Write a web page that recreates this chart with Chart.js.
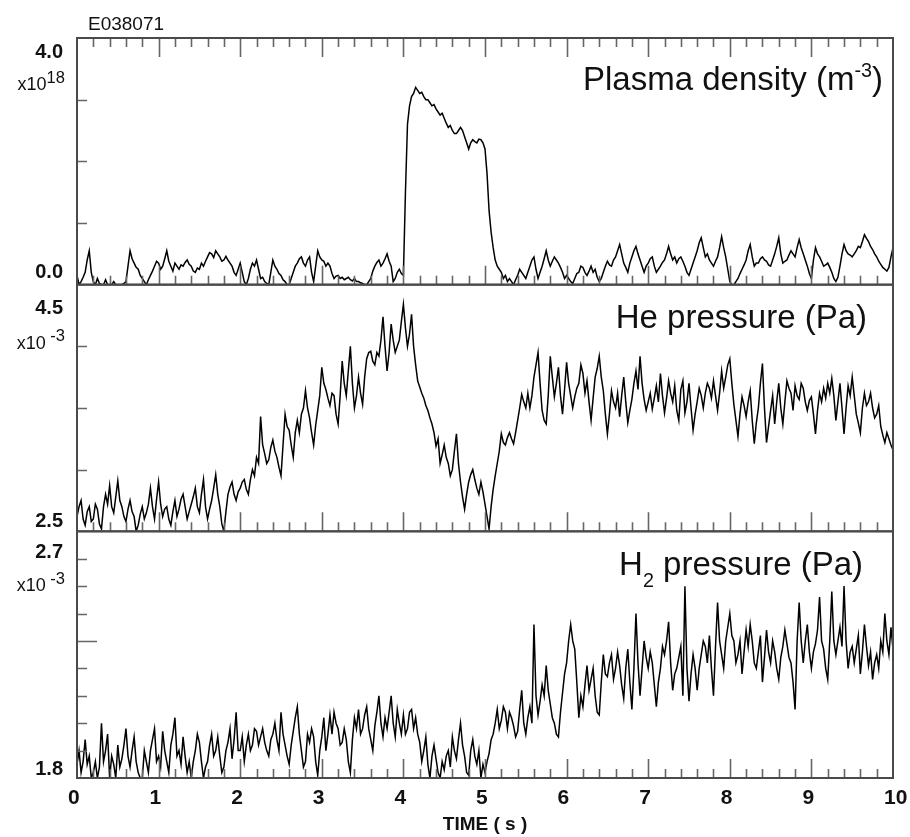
<!DOCTYPE html>
<html>
<head>
<meta charset="utf-8">
<script src="https://cdn.jsdelivr.net/npm/chart.js@4.4.0/dist/chart.umd.min.js"></script>
<style>
  body { margin: 0; background: #fff; }
  #wrap { width: 910px; height: 837px; }
</style>
</head>
<body>
<div id="wrap"><canvas id="chart" width="910" height="837"></canvas></div>
<script>
// shot number shown above the plot
const shotLabel = 'E038071';

// traces every 0.025 s, from 0 to 10 s
const dt = 0.025;

// plasma density, x10^18 m^-3 (one line per half second)
const density = [
    0.15, 0.0, 0.05, 0.12, 0.2, 0.4, 0.55, 0.2, 0.05, 0.0, 0.1, 0.02, 0.0, 0.0, 0.08, 0.0, 0.0, 0.0, 0.05, 0.0,
    0.0, 0.0, 0.0, 0.02, 0.05, 0.3, 0.55, 0.42, 0.35, 0.28, 0.25, 0.15, 0.1, 0.05, 0.0, 0.08, 0.15, 0.22, 0.3, 0.38,
    0.35, 0.25, 0.3, 0.42, 0.55, 0.38, 0.3, 0.22, 0.35, 0.3, 0.25, 0.32, 0.3, 0.36, 0.4, 0.33, 0.3, 0.22, 0.2, 0.27,
    0.25, 0.35, 0.3, 0.38, 0.45, 0.52, 0.5, 0.44, 0.55, 0.5, 0.45, 0.38, 0.4, 0.46, 0.4, 0.35, 0.3, 0.2, 0.15, 0.25,
    0.35, 0.2, 0.05, 0.0, 0.1, 0.25, 0.35, 0.3, 0.4, 0.25, 0.1, 0.12, 0.05, 0.02, 0.0, 0.2, 0.4, 0.3, 0.25, 0.18,
    0.15, 0.08, 0.05, 0.0, 0.0, 0.1, 0.2, 0.3, 0.35, 0.42, 0.45, 0.35, 0.3, 0.4, 0.45, 0.2, 0.05, 0.3, 0.55, 0.45,
    0.4, 0.38, 0.3, 0.35, 0.3, 0.18, 0.1, 0.14, 0.15, 0.1, 0.12, 0.08, 0.1, 0.12, 0.08, 0.06, 0.1, 0.05, 0.05, 0.03,
    0.02, 0.0, 0.0, 0.05, 0.1, 0.22, 0.3, 0.36, 0.4, 0.3, 0.35, 0.42, 0.5, 0.38, 0.3, 0.05, 0.1, 0.2, 0.25, 0.18,
    0.15, 1.5, 2.6, 2.9, 3.05, 3.1, 3.2, 3.15, 3.1, 3.12, 3.05, 3.0, 3.0, 2.95, 2.9, 2.92, 2.85, 2.8, 2.75, 2.78,
    2.7, 2.62, 2.55, 2.58, 2.5, 2.45, 2.45, 2.5, 2.55, 2.5, 2.4, 2.3, 2.2, 2.3, 2.35, 2.32, 2.3, 2.36, 2.35, 2.3,
    2.2, 1.8, 1.2, 0.85, 0.6, 0.4, 0.3, 0.25, 0.2, 0.1, 0.15, 0.05, 0.1, 0.05, 0.0, 0.08, 0.15, 0.25, 0.2, 0.15,
    0.1, 0.2, 0.3, 0.4, 0.45, 0.25, 0.1, 0.2, 0.3, 0.42, 0.55, 0.4, 0.3, 0.38, 0.45, 0.4, 0.35, 0.28, 0.2, 0.1,
    0.15, 0.1, 0.05, 0.02, 0.1, 0.18, 0.2, 0.3, 0.28, 0.2, 0.15, 0.22, 0.3, 0.2, 0.25, 0.12, 0.05, 0.1, 0.2, 0.3,
    0.38, 0.32, 0.3, 0.4, 0.45, 0.55, 0.65, 0.5, 0.35, 0.28, 0.2, 0.35, 0.45, 0.55, 0.62, 0.5, 0.4, 0.3, 0.2, 0.3,
    0.35, 0.42, 0.45, 0.3, 0.2, 0.25, 0.3, 0.36, 0.4, 0.5, 0.62, 0.5, 0.4, 0.45, 0.35, 0.42, 0.45, 0.38, 0.3, 0.2,
    0.15, 0.25, 0.35, 0.45, 0.55, 0.68, 0.76, 0.6, 0.45, 0.5, 0.4, 0.35, 0.3, 0.38, 0.45, 0.6, 0.78, 0.6, 0.45, 0.25,
    0.05, 0.0, 0.0, 0.05, 0.1, 0.18, 0.25, 0.32, 0.4, 0.55, 0.65, 0.45, 0.3, 0.35, 0.35, 0.42, 0.45, 0.4, 0.38, 0.32,
    0.3, 0.4, 0.5, 0.62, 0.76, 0.5, 0.35, 0.38, 0.4, 0.48, 0.55, 0.5, 0.45, 0.6, 0.73, 0.6, 0.5, 0.4, 0.3, 0.18,
    0.1, 0.4, 0.6, 0.5, 0.45, 0.38, 0.3, 0.32, 0.35, 0.28, 0.2, 0.1, 0.05, 0.12, 0.3, 0.5, 0.65, 0.55, 0.5, 0.48,
    0.45, 0.5, 0.55, 0.62, 0.6, 0.7, 0.81, 0.75, 0.7, 0.62, 0.57, 0.5, 0.45, 0.38, 0.33, 0.28, 0.25, 0.22, 0.28, 0.45,
    0.6
];

// He pressure, x10^-3 Pa
const hePressure = [
    2.62, 2.7, 2.75, 2.6, 2.55, 2.66, 2.7, 2.58, 2.6, 2.72, 2.68, 2.56, 2.52, 2.7, 2.8, 2.72, 2.87, 2.7, 2.65, 2.78,
    2.91, 2.75, 2.7, 2.62, 2.58, 2.68, 2.75, 2.66, 2.62, 2.5, 2.55, 2.64, 2.7, 2.6, 2.65, 2.72, 2.85, 2.7, 2.6, 2.76,
    2.9, 2.72, 2.62, 2.68, 2.7, 2.6, 2.55, 2.66, 2.75, 2.62, 2.68, 2.76, 2.8, 2.7, 2.6, 2.66, 2.72, 2.78, 2.85, 2.7,
    2.65, 2.8, 2.92, 2.7, 2.6, 2.68, 2.75, 2.85, 2.96, 2.8, 2.7, 2.56, 2.5, 2.66, 2.8, 2.86, 2.9, 2.8, 2.75, 2.82,
    2.85, 2.9, 2.92, 2.84, 2.8, 2.92, 3.0, 2.95, 3.1, 3.05, 3.43, 3.2, 3.13, 3.05, 3.08, 3.18, 3.24, 3.15, 3.1, 3.02,
    2.95, 3.2, 3.45, 3.35, 3.32, 3.2, 3.1, 3.3, 3.4, 3.3, 3.45, 3.5, 3.64, 3.5, 3.42, 3.3, 3.2, 3.36, 3.48, 3.6,
    3.83, 3.7, 3.65, 3.58, 3.52, 3.62, 3.6, 3.45, 3.37, 3.6, 3.88, 3.7, 3.6, 3.8, 4.0, 3.7, 3.5, 3.6, 3.75, 3.62,
    3.53, 3.75, 3.9, 3.95, 3.96, 3.88, 3.85, 3.95, 3.92, 4.05, 4.24, 4.0, 3.8, 3.95, 4.18, 4.05, 3.95, 4.0, 4.05, 4.2,
    4.34, 4.15, 4.0, 4.1, 4.26, 4.0, 3.85, 3.72, 3.67, 3.62, 3.58, 3.52, 3.48, 3.42, 3.37, 3.3, 3.19, 3.25, 3.05, 3.12,
    3.2, 3.1, 3.05, 2.95, 3.0, 3.15, 3.29, 3.05, 2.9, 2.78, 2.68, 2.8, 2.9, 2.96, 3.0, 2.92, 2.85, 2.8, 2.9, 2.82,
    2.72, 2.62, 2.52, 2.7, 2.84, 2.95, 3.05, 3.15, 3.29, 3.22, 3.2, 3.26, 3.3, 3.25, 3.21, 3.3, 3.4, 3.5, 3.61, 3.55,
    3.5, 3.62, 3.5, 3.6, 3.75, 3.85, 3.95, 3.7, 3.48, 3.4, 3.37, 3.6, 3.92, 3.75, 3.59, 3.7, 3.83, 3.6, 3.45, 3.65,
    3.87, 3.7, 3.6, 3.5, 3.59, 3.66, 3.7, 3.85, 3.78, 3.62, 3.72, 3.55, 3.4, 3.58, 3.75, 3.82, 3.92, 3.75, 3.64, 3.45,
    3.29, 3.45, 3.64, 3.55, 3.5, 3.62, 3.43, 3.6, 3.75, 3.55, 3.38, 3.48, 3.57, 3.7, 3.8, 3.65, 3.92, 3.7, 3.57, 3.48,
    3.55, 3.62, 3.49, 3.58, 3.68, 3.55, 3.78, 3.6, 3.46, 3.58, 3.72, 3.62, 3.55, 3.68, 3.48, 3.4, 3.65, 3.72, 3.46, 3.55,
    3.7, 3.5, 3.32, 3.45, 3.55, 3.66, 3.6, 3.5, 3.62, 3.7, 3.66, 3.58, 3.72, 3.6, 3.48, 3.62, 3.8, 3.66, 3.75, 3.85,
    3.9, 3.7, 3.53, 3.4, 3.27, 3.45, 3.59, 3.52, 3.43, 3.55, 3.64, 3.4, 3.21, 3.38, 3.5, 3.7, 3.86, 3.5, 3.22, 3.35,
    3.48, 3.6, 3.37, 3.55, 3.7, 3.5, 3.37, 3.55, 3.72, 3.66, 3.62, 3.48, 3.68, 3.6, 3.57, 3.7, 3.66, 3.55, 3.48, 3.56,
    3.59, 3.45, 3.29, 3.48, 3.62, 3.55, 3.66, 3.58, 3.7, 3.62, 3.74, 3.6, 3.4, 3.55, 3.7, 3.5, 3.29, 3.5, 3.68, 3.6,
    3.75, 3.6, 3.45, 3.38, 3.3, 3.5, 3.62, 3.52, 3.55, 3.62, 3.5, 3.42, 3.45, 3.52, 3.35, 3.28, 3.22, 3.3, 3.25, 3.2,
    3.16
];

// H2 pressure, x10^-3 Pa
const h2Pressure = [
    1.85, 1.9, 1.82, 1.86, 1.94, 1.85, 1.88, 1.8, 1.82, 1.86, 1.8, 1.84, 2.0, 1.86, 1.9, 1.96, 1.8, 1.88, 1.85, 1.8,
    1.92, 1.84, 1.87, 1.92, 1.98, 1.88, 1.84, 1.9, 1.95, 1.86, 1.82, 1.8, 1.8, 1.9, 1.86, 1.82, 1.9, 1.94, 1.98, 1.86,
    1.88, 1.84, 1.97, 1.9, 1.86, 1.82, 1.92, 1.96, 2.02, 1.88, 1.9, 1.85, 1.95, 1.88, 1.82, 1.86, 1.8, 1.86, 1.9, 1.96,
    1.93, 1.86, 1.8, 1.84, 1.86, 1.92, 1.96, 1.88, 1.9, 1.95, 1.88, 1.82, 1.84, 1.9, 1.93, 1.98, 1.87, 1.94, 2.04, 1.9,
    1.9, 1.95, 1.86, 1.92, 1.96, 1.9, 1.92, 1.98, 1.97, 1.92, 1.95, 1.98, 1.93, 1.9, 1.88, 1.94, 1.96, 2.0, 1.94, 1.9,
    2.04, 1.96, 1.92, 1.88, 1.85, 1.92, 1.97, 2.02, 2.06, 1.96, 1.9, 1.84, 1.86, 1.96, 1.93, 1.98, 1.95, 1.86, 1.81, 1.9,
    1.95, 2.02, 1.9, 1.96, 2.03, 1.96, 2.04, 2.0, 1.98, 1.92, 1.93, 1.98, 1.94, 1.86, 1.82, 1.94, 2.02, 1.98, 2.05, 1.96,
    1.98, 2.03, 2.06, 1.98, 1.94, 1.9, 1.99, 2.04, 2.1, 2.0, 1.95, 2.02, 1.98, 2.04, 2.1, 2.0, 1.95, 2.05, 2.0, 1.96,
    2.03, 1.96, 1.98, 2.04, 2.05, 1.98, 2.02, 1.96, 1.93, 1.86, 1.9, 1.95, 1.85, 1.8, 1.88, 1.92, 1.87, 1.82, 1.8, 1.86,
    1.83, 1.88, 1.9, 1.84, 1.95, 1.9, 1.87, 1.94, 2.0, 1.92, 1.88, 1.82, 1.81, 1.9, 1.94, 1.88, 1.85, 1.9, 1.8, 1.85,
    1.82, 1.86, 1.89, 1.94, 1.96, 2.0, 2.05, 1.98, 2.01, 2.06, 2.04, 1.98, 2.04, 2.02, 1.99, 1.95, 1.97, 2.05, 2.12, 2.0,
    1.96, 2.02, 2.06, 2.0, 2.36, 2.1, 2.03, 2.08, 2.14, 2.1, 2.21, 2.12, 2.07, 2.02, 2.0, 1.96, 1.95, 2.04, 2.11, 2.18,
    2.22, 2.3, 2.36, 2.3, 2.27, 2.15, 2.02, 2.1, 2.06, 2.14, 2.21, 2.12, 2.16, 2.2, 2.1, 2.04, 2.03, 2.15, 2.25, 2.18,
    2.17, 2.22, 2.25, 2.16, 2.2, 2.26, 2.21, 2.14, 2.09, 2.2, 2.27, 2.15, 2.05, 2.2, 2.4, 2.22, 2.1, 2.2, 2.3, 2.24,
    2.2, 2.26, 2.22, 2.14, 2.06, 2.15, 2.2, 2.28, 2.25, 2.3, 2.37, 2.22, 2.12, 2.18, 2.2, 2.24, 2.28, 2.1, 2.5, 2.2,
    2.08, 2.18, 2.25, 2.2, 2.12, 2.2, 2.25, 2.3, 2.28, 2.22, 2.32, 2.2, 2.1, 2.28, 2.44, 2.3, 2.25, 2.2, 2.3, 2.35,
    2.4, 2.32, 2.3, 2.22, 2.25, 2.3, 2.18, 2.26, 2.34, 2.28, 2.36, 2.3, 2.22, 2.2, 2.26, 2.32, 2.15, 2.24, 2.34, 2.26,
    2.22, 2.3, 2.26, 2.2, 2.16, 2.24, 2.28, 2.34, 2.29, 2.24, 2.22, 2.15, 2.05, 2.3, 2.44, 2.3, 2.22, 2.3, 2.36, 2.26,
    2.2, 2.26, 2.29, 2.34, 2.46, 2.3, 2.27, 2.2, 2.16, 2.3, 2.48, 2.3, 2.25, 2.3, 2.35, 2.28, 2.5, 2.3, 2.2, 2.26,
    2.28, 2.22, 2.27, 2.32, 2.18, 2.26, 2.36, 2.28, 2.21, 2.26, 2.16, 2.22, 2.25, 2.2, 2.3, 2.26, 2.4, 2.3, 2.25, 2.35,
    2.27
];

// axis ticks
const timeTicks = [0, 1, 2, 3, 4, 5, 6, 7, 8, 9, 10];
const timeMinorStep = 0.2;
const densityTicks = [1, 2, 3];
const heTicks = [3.0, 3.5, 4.0];
const h2Ticks = [1.9, 2.0, 2.1, 2.2, 2.4, 2.5, 2.6];
const h2LongTicks = [2.3];

const FONT = "'Liberation Sans', Arial, Helvetica, sans-serif";
const INK = '#111';

function toPoints(values) {
    return values.map((v, i) => ({ x: Math.round(i * dt * 1000) / 1000, y: v }));
}

// one entry per stacked panel, top to bottom
const panels = [
    {
        axis: 'yDen', ticks: densityTicks, longTicks: [], topTicks: true,
        maxLabel: '4.0', minLabel: '0.0', exponent: '18',
        title: [{ t: 'Plasma density (m' }, { t: '-3', s: 'sup' }, { t: ')' }],
        maxY: 20, expY: 52, minY: -7, titleX: 883, titleY: 52
    },
    {
        axis: 'yHe', ticks: heTicks, longTicks: [], topTicks: false,
        maxLabel: '4.5', minLabel: '2.5', exponent: ' -3',
        title: [{ t: 'He pressure (Pa)' }],
        maxY: 29, expY: 64, minY: -4, titleX: 867, titleY: 43
    },
    {
        axis: 'yH2', ticks: h2Ticks, longTicks: h2LongTicks, topTicks: false,
        maxLabel: '2.7', minLabel: '1.8', exponent: ' -3',
        title: [{ t: 'H' }, { t: '2', s: 'sub' }, { t: ' pressure (Pa)' }],
        maxY: 27, expY: 60, minY: -3, titleX: 863, titleY: 44
    }
];

function drawRich(ctx, parts, xRight, y, size, subScale) {
    const widthOf = p => {
        ctx.font = (p.s ? size * subScale : size) + 'px ' + FONT;
        return ctx.measureText(p.t).width;
    };
    let x = xRight - parts.reduce((w, p) => w + widthOf(p), 0);
    parts.forEach(p => {
        const w = widthOf(p);
        const dy = p.s === 'sup' ? -size * 0.4 : (p.s === 'sub' ? size * 0.36 : 0);
        ctx.fillText(p.t, x, y + dy);
        x += w;
    });
}

const framePlugin = {
    id: 'frame',
    afterDraw(chart) {
        const ctx = chart.ctx;
        const xs = chart.scales.x;
        const left = xs.left, right = xs.right;
        ctx.save();

        panels.forEach(p => {
            const ys = chart.scales[p.axis];
            const top = ys.top, bottom = ys.bottom;

            // tick marks, all pointing into the panel
            ctx.strokeStyle = '#666';
            ctx.lineWidth = 1.6;
            ctx.beginPath();
            for (let k = 1; k < 50; k++) {
                const t = k * timeMinorStep;
                const px = Math.round(xs.getPixelForValue(t)) + 0.5;
                const len = (k % 5 === 0) ? 19 : 9;
                ctx.moveTo(px, bottom);
                ctx.lineTo(px, bottom - len);
                if (p.topTicks) {
                    ctx.moveTo(px, top);
                    ctx.lineTo(px, top + len);
                }
            }
            p.ticks.concat(p.longTicks).forEach(v => {
                const py = Math.round(ys.getPixelForValue(v)) + 0.5;
                const len = p.longTicks.includes(v) ? 20 : 10;
                ctx.moveTo(left, py);
                ctx.lineTo(left + len, py);
            });
            ctx.stroke();

            // panel frame
            ctx.strokeStyle = '#4a4a4a';
            ctx.lineWidth = 2;
            ctx.strokeRect(left, top, right - left, bottom - top);

            // value range and multiplier
            ctx.fillStyle = INK;
            ctx.textBaseline = 'alphabetic';
            ctx.textAlign = 'right';
            ctx.font = 'bold 20px ' + FONT;
            ctx.fillText(p.maxLabel, 63, top + p.maxY);
            ctx.fillText(p.minLabel, 63, bottom + p.minY);
            ctx.textAlign = 'left';
            drawRich(ctx, [{ t: 'x10' }, { t: p.exponent, s: 'sup' }], 65, top + p.expY, 18, 0.92);

            // panel title
            drawRich(ctx, p.title, p.titleX, top + p.titleY, 33, 0.6);
        });

        ctx.fillStyle = INK;
        ctx.textAlign = 'left';
        ctx.font = '19px ' + FONT;
        ctx.fillText(shotLabel, 88, 30);
        ctx.restore();
    }
};

const panelAxis = {
    type: 'linear',
    position: 'left',
    stack: 'panels',
    stackWeight: 1,
    ticks: { display: false },
    grid: { display: false, drawTicks: false },
    border: { display: false },
    afterFit: s => { s.width = 0; }
};

const traceStyle = {
    borderColor: '#000',
    borderWidth: 1.5,
    pointRadius: 0,
    tension: 0,
    fill: false
};

const ctx = document.getElementById('chart').getContext('2d');
const myChart = new Chart(ctx, {
    type: 'line',
    data: {
        datasets: [
            { label: 'Plasma density', data: toPoints(density), yAxisID: 'yDen', ...traceStyle },
            { label: 'He pressure', data: toPoints(hePressure), yAxisID: 'yHe', ...traceStyle },
            { label: 'H2 pressure', data: toPoints(h2Pressure), yAxisID: 'yH2', ...traceStyle }
        ]
    },
    options: {
        responsive: false,
        animation: false,
        devicePixelRatio: 1,
        layout: { padding: { left: 77, right: 17, top: 38, bottom: 0 } },
        plugins: {
            legend: { display: false },
            tooltip: { enabled: false }
        },
        scales: {
            x: {
                type: 'linear',
                position: 'bottom',
                min: 0,
                max: 10,
                afterBuildTicks: s => { s.ticks = timeTicks.map(v => ({ value: v })); },
                ticks: {
                    align: 'start',
                    labelOffset: -9,
                    padding: 8,
                    maxRotation: 0,
                    autoSkip: false,
                    color: INK,
                    font: { family: FONT, size: 21, weight: 'bold' }
                },
                grid: { display: false, drawTicks: false },
                border: { display: false },
                title: {
                    display: true,
                    text: 'TIME ( s )',
                    color: INK,
                    font: { family: FONT, size: 19, weight: 'bold' },
                    padding: { top: 0, bottom: 1 }
                },
                afterFit: s => { s.height = 59; s.paddingLeft = 0; s.paddingRight = 0; }
            },
            yH2: { ...panelAxis, min: 1.8, max: 2.7 },
            yHe: { ...panelAxis, min: 2.5, max: 4.5 },
            yDen: { ...panelAxis, min: 0, max: 4 }
        }
    },
    plugins: [framePlugin]
});
</script>
</body>
</html>
